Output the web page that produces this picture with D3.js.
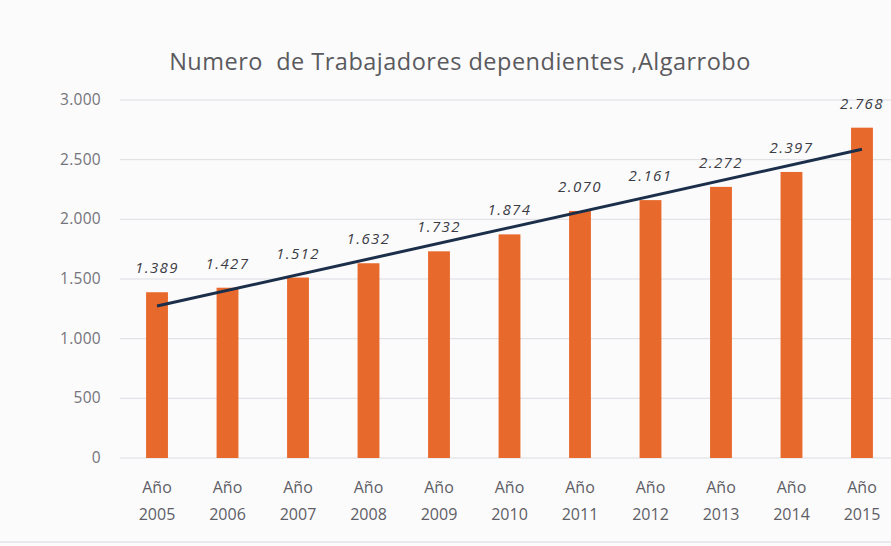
<!DOCTYPE html>
<html>
<head>
<meta charset="utf-8">
<script src="https://cdn.jsdelivr.net/npm/d3@7"></script>
<style>
  body { margin: 0; background: #fbfbfc; }
  svg { display: block; font-family: "Open Sans", "DejaVu Sans", sans-serif; }
</style>
</head>
<body>
<script>
const YEARS = ['2005', '2006', '2007', '2008', '2009', '2010', '2011', '2012', '2013', '2014', '2015']
const VALUES = [1389, 1427, 1512, 1632, 1732, 1874, 2070, 2161, 2272, 2397, 2768]
const Y_TICKS = [0, 500, 1000, 1500, 2000, 2500, 3000]
const TITLE = 'Numero  de Trabajadores dependientes ,Algarrobo'

const WIDTH = 891
const HEIGHT = 546
const margin = { top: 100, right: -8, bottom: 88, left: 120 }

const svg = d3.select('body').append('svg')
  .attr('width', WIDTH)
  .attr('height', HEIGHT)

const x = d3.scaleBand()
  .domain(YEARS)
  .range([margin.left, WIDTH - margin.right])
  .paddingInner(0.69)
  .paddingOuter(0.37)

const y = d3.scaleLinear()
  .domain([0, 3000])
  .range([HEIGHT - margin.bottom, margin.top])

const fmt = v => d3.format(',')(v).replace(/,/g, '.')

// title
svg.append('text')
  .attr('x', 460)
  .attr('y', 70)
  .attr('text-anchor', 'middle')
  .attr('fill', '#5a5a5e')
  .attr('font-size', 23.5)
  .attr('letter-spacing', 0.5)
  .style('white-space', 'pre')
  .text(TITLE)

// grid
svg.append('g')
  .selectAll('line')
  .data(Y_TICKS)
  .join('line')
  .attr('x1', margin.left)
  .attr('x2', WIDTH)
  .attr('y1', d => y(d))
  .attr('y2', d => y(d))
  .attr('stroke', '#dcdde2')
  .attr('stroke-width', 1)

// y labels
svg.append('g')
  .selectAll('text')
  .data(Y_TICKS)
  .join('text')
  .attr('x', 101)
  .attr('y', d => y(d) + 5)
  .attr('text-anchor', 'end')
  .attr('fill', '#74747a')
  .attr('font-size', 15.5)
  .attr('letter-spacing', 0.3)
  .text(fmt)

// bars
svg.append('g')
  .selectAll('rect')
  .data(VALUES)
  .join('rect')
  .attr('x', (d, i) => x(YEARS[i]))
  .attr('y', d => y(d))
  .attr('width', x.bandwidth())
  .attr('height', d => y(0) - y(d))
  .attr('fill', '#e8692c')

// value labels
svg.append('g')
  .selectAll('text')
  .data(VALUES)
  .join('text')
  .attr('x', (d, i) => x(YEARS[i]) + x.bandwidth() / 2)
  .attr('y', d => y(d) - 19)
  .attr('text-anchor', 'middle')
  .attr('fill', '#3c3c44')
  .attr('font-size', 15)
  .attr('font-style', 'italic')
  .attr('letter-spacing', 1.4)
  .text(fmt)

// linear trend line (least squares over the bars)
const n = VALUES.length
const mx = d3.mean(d3.range(n))
const my = d3.mean(VALUES)
const slope = d3.sum(VALUES, (v, i) => (i - mx) * (v - my)) / d3.sum(d3.range(n), i => (i - mx) ** 2)
const icpt = my - slope * mx
const cx = i => x(YEARS[i]) + x.bandwidth() / 2

svg.append('line')
  .attr('x1', cx(0))
  .attr('y1', y(icpt))
  .attr('x2', cx(n - 1))
  .attr('y2', y(icpt + slope * (n - 1)))
  .attr('stroke', '#1c2f4a')
  .attr('stroke-width', 3)

// x labels
const xl = svg.append('g')
  .selectAll('text')
  .data(YEARS)
  .join('text')
  .attr('x', d => x(d) + x.bandwidth() / 2)
  .attr('y', HEIGHT - margin.bottom + 35)
  .attr('text-anchor', 'middle')
  .attr('fill', '#5e5e66')
  .attr('font-size', 16)

xl.append('tspan')
  .attr('x', d => x(d) + x.bandwidth() / 2)
  .text('Año')
xl.append('tspan')
  .attr('x', d => x(d) + x.bandwidth() / 2)
  .attr('dy', 27)
  .text(d => d)

// bottom frame edge
svg.append('line')
  .attr('x1', 0)
  .attr('x2', WIDTH)
  .attr('y1', HEIGHT - 4)
  .attr('y2', HEIGHT - 4)
  .attr('stroke', '#d8d8de')
</script>
</body>
</html>
